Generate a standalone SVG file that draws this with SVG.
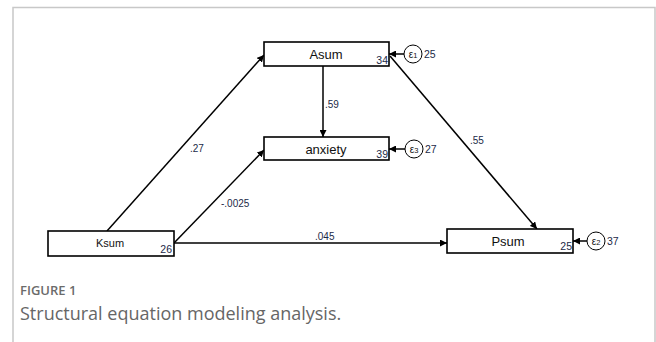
<svg xmlns="http://www.w3.org/2000/svg" width="656" height="342" viewBox="0 0 656 342">
<defs>
<marker id="ah" viewBox="0 0 10 10" refX="10" refY="5" markerWidth="7" markerHeight="7" markerUnits="userSpaceOnUse" orient="auto">
<path d="M0,0 L10,5 L0,10 z" fill="#000"/>
</marker>
</defs>
<style>
.box{fill:#fff;stroke:#000;stroke-width:1.6}
.lbl{font-family:"Liberation Sans",Arial,sans-serif;font-size:13px;fill:#111;text-anchor:middle}
.num{font-family:"Liberation Sans",Arial,sans-serif;font-size:10.5px;fill:#1b2a48}
.coef{font-family:"Liberation Sans",Arial,sans-serif;font-size:10px;fill:#1b2a48}
.err{fill:#fff;stroke:#000;stroke-width:1}
.etxt{font-family:"Liberation Sans",Arial,sans-serif;font-size:10px;fill:#111;text-anchor:middle}
.edge{stroke:#000;stroke-width:1.5;fill:none;marker-end:url(#ah)}
.frame{stroke:#c8c8c8;stroke-width:1.5;fill:none}
</style>
<rect width="656" height="342" fill="#fff"/>
<path class="frame" d="M13,342 V7.5 H655 V342"/>
<g id="connectors">
<line class="edge" x1="107" y1="231" x2="264" y2="55"/>
<line class="edge" x1="174" y1="243" x2="264" y2="150"/>
<line class="edge" x1="174" y1="243" x2="447" y2="243"/>
<line class="edge" x1="323" y1="66" x2="323" y2="137"/>
<line class="edge" x1="390" y1="56" x2="537" y2="229"/>
<line class="edge" x1="404" y1="54" x2="389" y2="54"/>
<line class="edge" x1="405" y1="149" x2="389" y2="149"/>
<line class="edge" x1="587" y1="241" x2="573" y2="241"/>
<text class="coef" x="190" y="152">.27</text>
<text class="coef" x="221" y="207">-.0025</text>
<text class="coef" x="325" y="108">.59</text>
<text class="coef" x="470" y="144">.55</text>
<text class="coef" x="315" y="240">.045</text>
</g>
<g id="Asum">
<rect class="box" x="264" y="42" width="125" height="24"/>
<text class="lbl" x="326" y="59">Asum</text>
<text class="num" x="388" y="64" text-anchor="end">34</text>
</g>
<g id="anxiety">
<rect class="box" x="264" y="137" width="125" height="23"/>
<text class="lbl" x="326" y="154">anxiety</text>
<text class="num" x="388" y="158" text-anchor="end">39</text>
</g>
<g id="Ksum">
<rect class="box" x="48" y="231" width="126" height="25"/>
<text class="lbl" x="110" y="247" style="font-size:11px">Ksum</text>
<text class="num" x="172" y="253" text-anchor="end">26</text>
</g>
<g id="Psum">
<rect class="box" x="447" y="229" width="126" height="24"/>
<text class="lbl" x="508" y="246">Psum</text>
<text class="num" x="572" y="250" text-anchor="end">25</text>
</g>
<g id="e1">
<circle class="err" cx="413" cy="54" r="9"/>
<text class="etxt" x="413" y="57.5">ε<tspan font-size="7.5">1</tspan></text>
<text class="num" x="424" y="57.5">25</text>
</g>
<g id="e3">
<circle class="err" cx="414" cy="149" r="9"/>
<text class="etxt" x="414" y="152.5">ε<tspan font-size="7.5">3</tspan></text>
<text class="num" x="425" y="152.5">27</text>
</g>
<g id="e2">
<circle class="err" cx="596" cy="241" r="9"/>
<text class="etxt" x="596" y="244.5">ε<tspan font-size="7.5">2</tspan></text>
<text class="num" x="607" y="244.5">37</text>
</g>
<g id="caption">
<text x="20" y="295" style="font-family:'Open Sans','Liberation Sans',sans-serif;font-size:13px;font-weight:600;fill:#6b6b6b">FIGURE 1</text>
<text x="20" y="320" style="font-family:'Open Sans','Liberation Sans',sans-serif;font-size:18px;fill:#666">Structural equation modeling analysis.</text>
</g>
</svg>
